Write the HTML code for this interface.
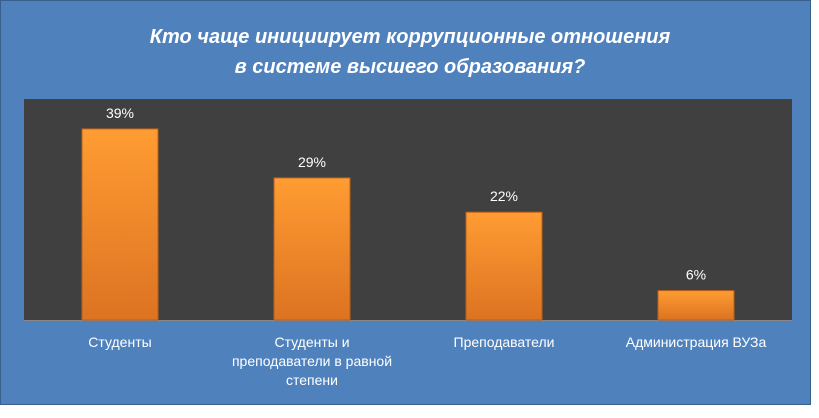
<!DOCTYPE html>
<html><head><meta charset="utf-8"><style>
body{margin:0;width:819px;height:413px;background:#fff;overflow:hidden;font-family:"Liberation Sans","DejaVu Sans",sans-serif}
</style></head><body>
<svg width="819" height="413">
<defs>
<linearGradient id="g" x1="0" y1="0" x2="0" y2="1"><stop offset="0" stop-color="#ff9c32"/><stop offset="1" stop-color="#dc7322"/></linearGradient>
</defs>
<rect x="0.5" y="0.5" width="810" height="404" fill="#4f81bd" stroke="#3a5f8c"/>
<text x="410" y="43" text-anchor="middle" fill="#fff" font-size="20" font-weight="bold" font-style="italic">Кто чаще инициирует коррупционные отношения</text>
<text x="410" y="73" text-anchor="middle" fill="#fff" font-size="20" font-weight="bold" font-style="italic">в системе высшего образования?</text>
<rect x="24" y="99" width="768" height="221" fill="#404040"/>
<line x1="24" y1="320.5" x2="792" y2="320.5" stroke="#888"/>
<g id="bars"></g>
</svg>
<script>
const categories=[["Студенты"],["Студенты  и","преподаватели  в равной","степени"],["Преподаватели"],["Администрация  ВУЗа"]];
const values=[39,29,22,6];
const valueLabels=["39%","29%","22%","6%"];
const x0=24,step=192,base=320,scale=4.9,bw=76;
const xc=i=>x0+step*(i+0.5);
const y=v=>base-v*scale;
const g=document.getElementById('bars');const ns="http://www.w3.org/2000/svg";
values.forEach((v,i)=>{
 const r=document.createElementNS(ns,'rect');
 r.setAttribute('x',xc(i)-bw/2);r.setAttribute('y',y(v));r.setAttribute('width',bw);r.setAttribute('height',base-y(v));
 r.setAttribute('fill','url(#g)');r.setAttribute('stroke','#b8601a');
 
 
 g.appendChild(r);
 const t=document.createElementNS(ns,'text');
 t.setAttribute('x',xc(i));t.setAttribute('y',y(v)-11);t.setAttribute('text-anchor','middle');t.setAttribute('fill','#fff');t.setAttribute('font-size','14');
 t.textContent=valueLabels[i];
 
 
 g.appendChild(t);
 categories[i].forEach((line,j)=>{
  const c=document.createElementNS(ns,'text');
  c.setAttribute('x',xc(i));c.setAttribute('y',347+j*19);c.setAttribute('text-anchor','middle');c.setAttribute('fill','#fff');c.setAttribute('font-size','14');
  c.textContent=line;
  
  
  g.appendChild(c);
 });
});
</script>
</body></html>
